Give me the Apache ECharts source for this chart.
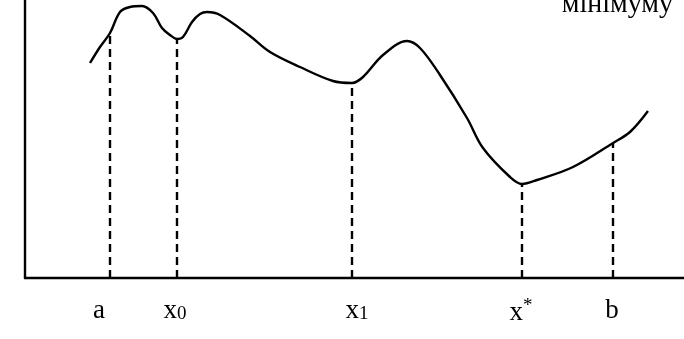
<!DOCTYPE html>
<html>
<head>
<meta charset="utf-8">
<script src="https://cdn.jsdelivr.net/npm/echarts@6/dist/echarts.min.js"></script>
<style>html,body{margin:0;padding:0;background:#fff}#c{width:684px;height:339px}</style>
</head>
<body>
<div id="c"></div>
<script>
// curve (x, y in chart units)
const curveX = [65, 75, 85, 95, 105, 117, 128, 137, 145, 152, 158, 167, 175, 182, 195, 225, 245, 275, 308, 327, 338, 358, 382, 395, 415, 442, 458, 485, 497, 512, 548, 588, 605, 623];
const curveY = [215, 231, 245, 266, 271, 272, 265, 250, 243, 239, 241, 256, 264, 266, 263, 242, 226, 211, 197, 195, 201, 223, 237, 230, 203, 160, 130, 101, 94, 98, 111, 135, 146, 167];
// dashed verticals: positions and curve heights
const markX = [85, 152, 327, 497, 588];
const markY = [245, 239, 195, 94, 135];
// tick labels and their positions
const tickPos = [74, 150, 332, 496, 587];
const tickLabels = ['{n|a}', '{n|x}{sub|0}', '{n|x}{sub|1}', '{n|x}{sup|*}', '{n|b}'];
const noteText = 'мінімуму';

const serif = '"Liberation Serif", "Times New Roman", serif';
const series = [{
  type: 'line',
  data: curveX.map((x, i) => [x, curveY[i]]),
  smooth: 0.35,
  symbol: 'none',
  lineStyle: { color: '#000', width: 2.4 },
  z: 3
}];
markX.forEach((x, i) => {
  series.push({
    type: 'line',
    data: [[x, 0], [x, markY[i]]],
    symbol: 'none',
    lineStyle: { color: '#000', width: 2.4, type: [8, 5] },
    z: 2
  });
});

const chart = echarts.init(document.getElementById('c'));
chart.setOption({
  animation: false,
  backgroundColor: '#fff',
  title: {
    text: noteText,
    right: 11,
    top: -9,
    padding: 0,
    textStyle: { fontFamily: serif, fontSize: 28, fontWeight: 'normal', color: '#000' }
  },
  grid: { left: 25, right: 0, top: 0, bottom: 61, containLabel: false },
  xAxis: {
    type: 'value', min: 0, max: 659,
    axisLine: { show: true, onZero: false, lineStyle: { color: '#000', width: 2.4 } },
    axisTick: { show: false },
    splitLine: { show: false },
    axisLabel: {
      show: true,
      customValues: tickPos,
      margin: 19,
      formatter: function (v) {
        const i = tickPos.indexOf(v);
        return i >= 0 ? tickLabels[i] : '';
      },
      rich: {
        n: { fontFamily: serif, fontSize: 27, color: '#000' },
        sub: { fontFamily: serif, fontSize: 19, color: '#000', verticalAlign: 'bottom', padding: [4, 0, 0, 0] },
        sup: { fontFamily: serif, fontSize: 19, color: '#000', verticalAlign: 'top', padding: [0, 0, 12, 0] }
      }
    }
  },
  yAxis: {
    type: 'value', min: 0, max: 278,
    axisLine: { show: true, lineStyle: { color: '#000', width: 2.4 } },
    axisTick: { show: false },
    splitLine: { show: false },
    axisLabel: { show: false }
  },
  series: series
});
</script>
</body>
</html>
